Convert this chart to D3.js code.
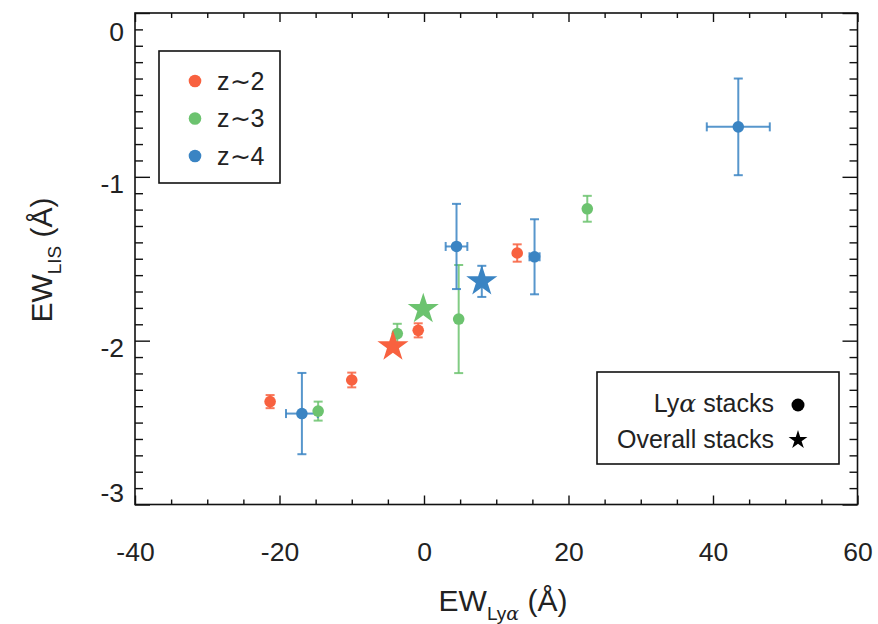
<!DOCTYPE html>
<html><head><meta charset="utf-8">
<script src="https://cdn.jsdelivr.net/npm/d3@7"></script>
<style>
body{margin:0;background:#fff;}
svg{font-family:"Liberation Sans",Arial,Helvetica,sans-serif;}
</style></head>
<body><svg id="c" width="878" height="624"></svg>
<script>
// ---- data ----
const seriesNames = ["z∼2", "z∼3", "z∼4"];
const z2_x = [-21.3, -10.0, -0.8, 12.9];
const z2_y = [-2.372, -2.240, -1.937, -1.465];
const z2_xerr = [0, 0, 0, 0];
const z2_yerr = [0.040, 0.045, 0.043, 0.053];
const z3_x = [-14.65, -3.7, 4.8, 22.6];
const z3_y = [-2.430, -1.957, -1.868, -1.195];
const z3_xerr = [0, 0, 0, 0];
const z3_yerr = [0.058, 0.06, 0.33, 0.079];
const z4_x = [-16.9, 4.5, 15.3, 43.5];
const z4_y = [-2.445, -1.425, -1.488, -0.695];
const z4_xerr = [2.2, 1.5, 0.7, 4.36];
const z4_yerr = [0.248, 0.26, 0.229, 0.295];
const star_x = [-4.3, -0.1, 8.0];
const star_y = [-2.035, -1.807, -1.638];
const star_xerr = [0, 0, 0];
const star_yerr = [0, 0, 0.095];
const xTicks = [-40, -20, 0, 20, 40, 60];
const yTicks = [0, -1, -2, -3];

// ---- styles ----
const colors = ["#f8613f", "#6cc36f", "#3a84c3"];
const L = 135, R = 857.5, T = 13, B = 504.5;

const svg = d3.select("#c");
const x = d3.scaleLinear().domain([-40, 60]).range([L, R]);
const y = d3.scaleLinear().domain([-3, 0]).range([B, T]);

const minorX = d3.range(-40, 60.01, 5).filter(v => !xTicks.includes(v));
const minorY = d3.range(-30, 0.5, 1).map(v => v / 10).filter(v => !yTicks.some(t => Math.abs(t - v) < 1e-9));

function styleAxis(g){
  g.select(".domain").remove();
  g.selectAll("line").attr("stroke", "#111").attr("stroke-width", 1.4);
}
// minor ticks
svg.append("g").attr("transform", `translate(0,${B})`)
  .call(d3.axisBottom(x).tickValues(minorX).tickSizeInner(-5).tickFormat("")).call(styleAxis);
svg.append("g").attr("transform", `translate(0,${T})`)
  .call(d3.axisTop(x).tickValues(minorX).tickSizeInner(-5).tickFormat("")).call(styleAxis);
svg.append("g").attr("transform", `translate(${L},0)`)
  .call(d3.axisLeft(y).tickValues(minorY).tickSizeInner(-8).tickFormat("")).call(styleAxis);
svg.append("g").attr("transform", `translate(${R},0)`)
  .call(d3.axisRight(y).tickValues(minorY).tickSizeInner(-8).tickFormat("")).call(styleAxis);
// major ticks
const gx = svg.append("g").attr("transform", `translate(0,${B})`)
  .call(d3.axisBottom(x).tickValues(xTicks).tickSizeInner(-9).tickPadding(38).tickFormat(d => d)).call(styleAxis);
gx.selectAll("text").attr("font-size", 26.5).attr("fill", "#222").attr("font-family", "Liberation Sans, Arial, sans-serif");
svg.append("g").attr("transform", `translate(0,${T})`)
  .call(d3.axisTop(x).tickValues(xTicks).tickSizeInner(-9).tickFormat("")).call(styleAxis);
const gy = svg.append("g").attr("transform", `translate(${L},0)`)
  .call(d3.axisLeft(y).tickValues(yTicks).tickSizeInner(-15).tickPadding(11).tickFormat(d => d)).call(styleAxis);
gy.selectAll("text").attr("font-size", 26.5).attr("fill", "#222").attr("font-family", "Liberation Sans, Arial, sans-serif")
  .attr("dy", d => d === 0 ? "1.05em" : (d === -3 ? "-0.12em" : "0.58em"));
svg.append("g").attr("transform", `translate(${R},0)`)
  .call(d3.axisRight(y).tickValues(yTicks).tickSizeInner(-15).tickFormat("")).call(styleAxis);

// frame
svg.append("rect").attr("x", L).attr("y", T).attr("width", R - L).attr("height", B - T)
  .attr("fill", "none").attr("stroke", "#111").attr("stroke-width", 1.6);

// axis titles
const xt = svg.append("text").attr("x", 503).attr("y", 611).attr("text-anchor", "middle")
  .attr("font-size", 30).attr("fill", "#222");
xt.append("tspan").text("EW");
xt.append("tspan").attr("font-size", 19).attr("dy", 9).text("Ly");
xt.append("tspan").attr("font-size", 19).attr("font-style", "italic").attr("font-family", "DejaVu Serif, serif").text("α");
xt.append("tspan").attr("dy", -9).text(" (Å)");

const yt = svg.append("text").attr("transform", "translate(52,260) rotate(-90)").attr("text-anchor", "middle")
  .attr("font-size", 30).attr("fill", "#222");
yt.append("tspan").text("EW");
yt.append("tspan").attr("font-size", 19).attr("dy", 9).text("LIS");
yt.append("tspan").attr("dy", -9).text(" (Å)");

// data
const series = [
  {x: z2_x, y: z2_y, xe: z2_xerr, ye: z2_yerr},
  {x: z3_x, y: z3_y, xe: z3_xerr, ye: z3_yerr},
  {x: z4_x, y: z4_y, xe: z4_xerr, ye: z4_yerr}
];
const plot = svg.append("g");
function errbars(g, px, py, xe, ye, col){
  const cap = 4.5;
  if (ye > 0){
    g.append("line").attr("x1", x(px)).attr("x2", x(px)).attr("y1", y(py - ye)).attr("y2", y(py + ye));
    g.append("line").attr("x1", x(px) - cap).attr("x2", x(px) + cap).attr("y1", y(py - ye)).attr("y2", y(py - ye));
    g.append("line").attr("x1", x(px) - cap).attr("x2", x(px) + cap).attr("y1", y(py + ye)).attr("y2", y(py + ye));
  }
  if (xe > 0){
    g.append("line").attr("x1", x(px - xe)).attr("x2", x(px + xe)).attr("y1", y(py)).attr("y2", y(py));
    g.append("line").attr("x1", x(px - xe)).attr("x2", x(px - xe)).attr("y1", y(py) - cap).attr("y2", y(py) + cap);
    g.append("line").attr("x1", x(px + xe)).attr("x2", x(px + xe)).attr("y1", y(py) - cap).attr("y2", y(py) + cap);
  }
  g.selectAll("line").attr("stroke", col).attr("stroke-width", 2).attr("stroke-opacity", 0.85);
}
series.forEach((s, i) => {
  s.x.forEach((v, j) => {
    const g = plot.append("g");
    errbars(g, v, s.y[j], s.xe[j], s.ye[j], colors[i]);
  });
});
star_x.forEach((v, j) => {
  const g = plot.append("g");
  errbars(g, v, star_y[j], star_xerr[j], star_yerr[j], colors[j]);
});
series.forEach((s, i) => {
  plot.selectAll(null).data(s.x.map((v, j) => [v, s.y[j]])).enter().append("circle")
    .attr("cx", d => x(d[0])).attr("cy", d => y(d[1])).attr("r", 5.8).attr("fill", colors[i]);
});
const starPath = d3.symbol().type(d3.symbolStar).size(300);
plot.selectAll(null).data(star_x.map((v, j) => [v, star_y[j], j])).enter().append("path")
  .attr("d", starPath).attr("transform", d => `translate(${x(d[0])},${y(d[1])})`).attr("fill", d => colors[d[2]]);

// legend 1
svg.append("rect").attr("x", 159).attr("y", 51).attr("width", 121).attr("height", 132)
  .attr("fill", "#fff").attr("stroke", "#111").attr("stroke-width", 1.6);
seriesNames.forEach((n, i) => {
  const cy = 81 + i * 37.5;
  svg.append("circle").attr("cx", 195).attr("cy", cy).attr("r", 6.3).attr("fill", colors[i]);
  svg.append("text").attr("x", 217).attr("y", cy + 8.5).attr("font-size", 25).attr("fill", "#222").text(n);
});

// legend 2
svg.append("rect").attr("x", 597).attr("y", 372).attr("width", 242).attr("height", 92)
  .attr("fill", "#fff").attr("stroke", "#111").attr("stroke-width", 1.6);
const l1 = svg.append("text").attr("x", 774).attr("y", 412).attr("text-anchor", "end").attr("font-size", 25).attr("fill", "#222");
l1.append("tspan").text("Ly");
l1.append("tspan").attr("font-style", "italic").attr("font-family", "DejaVu Serif, serif").text("α");
l1.append("tspan").text(" stacks");
svg.append("circle").attr("cx", 798).attr("cy", 405).attr("r", 6.5).attr("fill", "#000");
svg.append("text").attr("x", 774).attr("y", 448).attr("text-anchor", "end").attr("font-size", 25).attr("fill", "#222").text("Overall stacks");
svg.append("path").attr("d", d3.symbol().type(d3.symbolStar).size(110)).attr("transform", "translate(798,440)").attr("fill", "#000");
</script></body></html>
